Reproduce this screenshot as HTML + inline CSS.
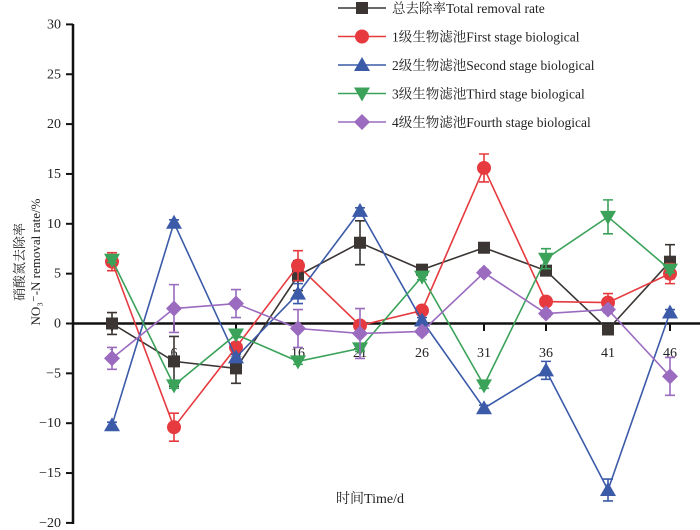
<!DOCTYPE html><html><head><meta charset="utf-8"><style>body{margin:0;background:#fff}svg{display:block}text{font-family:"Liberation Serif","Noto Serif CJK SC",serif;fill:#222}</style></head><body>
<svg width="700" height="530" viewBox="0 0 700 530" xmlns="http://www.w3.org/2000/svg">
<g stroke="#111" stroke-width="2.5" fill="none">
<line x1="73" y1="24" x2="73" y2="524"/>
<line x1="73" y1="323.5" x2="700" y2="323.5"/>
</g>
<g id="yt" font-size="14" text-anchor="end"></g>
<g id="xt" font-size="14" text-anchor="middle"></g>
<text x="370" y="503" font-size="14" text-anchor="middle">时间Time/d</text>
<text transform="translate(24,262) rotate(-90)" font-size="13" text-anchor="middle">硝酸氮去除率</text>
<text transform="translate(40,262) rotate(-90)" font-size="13" text-anchor="middle">NO₃⁻-N removal rate/%</text>
<g id="data"></g>
<g id="leg" font-size="13.5"></g>
</svg>
<script>
var NS="http://www.w3.org/2000/svg";
function el(p,t,a,tx){var e=document.createElementNS(NS,t);for(var k in a)e.setAttribute(k,a[k]);if(tx!=null)e.textContent=tx;document.getElementById(p)?document.getElementById(p).appendChild(e):p.appendChild(e);return e;}
function Y(v){return 323.5-9.97*v}
function X(i){return 112+i*62}
for(var v=-20;v<=30;v+=5){el("yt","line",{x1:66,x2:73,y1:Y(v),y2:Y(v),stroke:"#111","stroke-width":2});el("yt","text",{x:61,y:Y(v)+4},v==0?"0":(v<0?"−"+(-v):v));}
for(var i=0;i<10;i++){el("xt","line",{x1:X(i),x2:X(i),y1:323.5,y2:331,stroke:"#111","stroke-width":2});el("xt","text",{x:X(i),y:357},String(1+5*i));}
var S=[
{c:"#3b3634",m:"sq",d:[0,-3.8,-4.5,4.8,8.1,5.4,7.6,5.3,-0.6,6.2],e:[1.1,2.5,1.5,1.5,2.2,0.3,0.3,0.4,0.3,1.7],n:"总去除率Total removal rate"},
{c:"#e63a3f",m:"ci",d:[6.2,-10.4,-2.4,5.8,-0.2,1.3,15.6,2.2,2.1,5.0],e:[0.9,1.4,0.5,1.5,0.3,0.3,1.4,0.3,0.9,1.0],n:"1级生物滤池First stage biological"},
{c:"#3b5ba9",m:"up",d:[-10.2,10.1,-3.4,3.0,11.3,0.3,-8.5,-4.7,-16.7,1.1],e:[0.3,0.3,0.3,1.0,0.3,0.3,0.3,0.9,1.1,0.3],n:"2级生物滤池Second stage biological"},
{c:"#3ba25a",m:"dn",d:[6.4,-6.2,-1.1,-3.8,-2.5,4.7,-6.2,6.5,10.7,5.4],e:[0.3,0.3,0.3,0.3,0.3,0.3,0.3,1.0,1.7,0.3],n:"3级生物滤池Third stage biological"},
{c:"#9a6bbf",m:"di",d:[-3.5,1.5,2.0,-0.5,-1.0,-0.8,5.1,1.0,1.4,-5.3],e:[1.1,2.4,1.4,1.9,2.5,0.3,0.3,0.3,0.3,1.9],n:"4级生物滤池Fourth stage biological"}];
function mk(g,m,x,y,c){
if(m=="sq")el(g,"rect",{x:x-6,y:y-6,width:12,height:12,fill:c});
else if(m=="ci")el(g,"circle",{cx:x,cy:y,r:7,fill:c});
else if(m=="up")el(g,"polygon",{points:(x)+","+(y-8)+" "+(x+8)+","+(y+6)+" "+(x-8)+","+(y+6),fill:c});
else if(m=="dn")el(g,"polygon",{points:(x)+","+(y+8)+" "+(x+8)+","+(y-6)+" "+(x-8)+","+(y-6),fill:c});
else el(g,"polygon",{points:x+","+(y-8)+" "+(x+8)+","+y+" "+x+","+(y+8)+" "+(x-8)+","+y,fill:c});}
var D=document.getElementById("data");
S.forEach(function(s){var p=s.d.map(function(v,i){return X(i)+","+Y(v)}).join(" ");
el(D,"polyline",{points:p,fill:"none",stroke:s.c,"stroke-width":1.6});
s.d.forEach(function(v,i){var x=X(i),a=Y(v+s.e[i]),b=Y(v-s.e[i]);
el(D,"path",{d:"M"+x+" "+a+"V"+b+"M"+(x-5)+" "+a+"H"+(x+5)+"M"+(x-5)+" "+b+"H"+(x+5),stroke:s.c,"stroke-width":1.6,fill:"none"});
mk(D,s.m,x,Y(v),s.c);});});
var L=document.getElementById("leg");
S.forEach(function(s,k){var y=8+k*28.5;el(L,"line",{x1:338,x2:386,y1:y,y2:y,stroke:s.c,"stroke-width":1.6});mk(L,s.m,362,y,s.c);el(L,"text",{x:392,y:y+5},s.n);});
</script>
</body></html>
